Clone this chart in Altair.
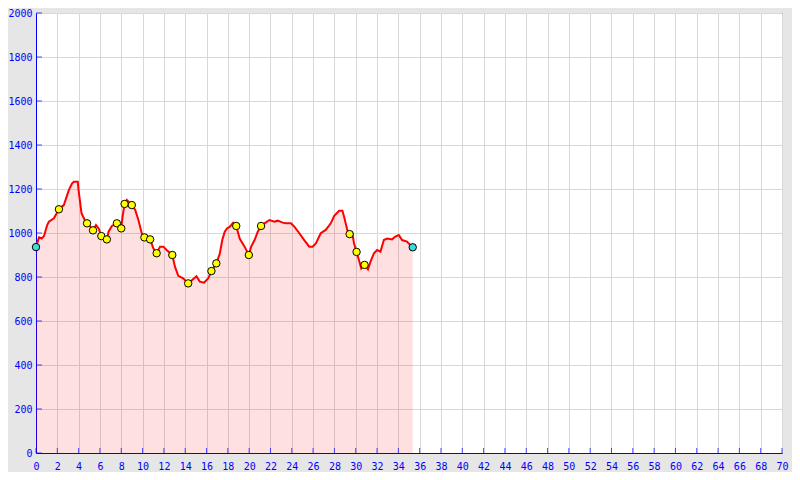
import altair as alt
import pandas as pd

# Elevation profile (km, m)
km = [0, 0.28, 0.53, 0.75, 1.05, 1.21, 1.68, 2.15, 2.61, 3.08, 3.39, 3.55, 3.92, 4.01,
      4.27, 4.57, 4.79, 5.11, 5.35, 5.63, 5.88, 6.13, 6.65, 6.81, 7.12, 7.59, 8.00, 8.12,
      8.31, 8.52, 8.99, 9.31, 9.61, 9.92, 10.17, 10.71, 11.01, 11.32, 11.64, 11.95, 12.26,
      12.79, 13.04, 13.35, 13.81, 14.28, 14.65, 15.06, 15.37, 15.77, 16.15, 16.46, 16.92,
      17.24, 17.48, 17.71, 17.92, 18.20, 18.50, 18.79, 19.11, 19.57, 19.97, 20.19, 20.51,
      20.81, 21.12, 21.44, 21.91, 22.37, 22.68, 23.15, 23.46, 23.92, 24.24, 24.71, 25.17,
      25.64, 25.95, 26.26, 26.72, 27.19, 27.66, 27.97, 28.44, 28.75, 28.91, 29.21, 29.43,
      29.68, 29.84, 30.08, 30.30, 30.52, 30.83, 31.15, 31.39, 31.71, 32.01, 32.32, 32.64,
      32.95, 33.41, 33.72, 34.04, 34.35, 34.81, 35.12, 35.35]
elev = [936, 980, 975, 986, 1036, 1051, 1067, 1108, 1127, 1195, 1226, 1233, 1233, 1188,
        1090, 1059, 1044, 1029, 1012, 1036, 1021, 986, 971, 1006, 1032, 1044, 1021, 1074,
        1132, 1150, 1127, 1105, 1059, 999, 980, 971, 930, 908, 938, 938, 923,
        900, 847, 805, 794, 771, 786, 803, 779, 774, 794, 825, 862,
        905, 968, 1006, 1021, 1029, 1047, 1032, 975, 938, 900, 938, 968,
        1006, 1032, 1044, 1059, 1051, 1056, 1047, 1044, 1044, 1029, 999, 968,
        938, 938, 953, 999, 1014, 1044, 1077, 1101, 1101, 1074, 1014, 995,
        1000, 953, 914, 877, 839, 855, 835, 870, 908, 923, 915, 968,
        975, 971, 984, 991, 968, 961, 945, 935]

# Waypoint markers
mk_km = [2.15, 4.79, 5.35, 6.13, 6.65, 7.59, 8.00, 8.31, 8.99, 10.17, 10.71, 11.32,
         12.79, 14.28, 16.46, 16.92, 18.79, 19.97, 21.12, 29.43, 30.08, 30.83]
mk_elev = [1108, 1044, 1012, 986, 971, 1044, 1021, 1132, 1127, 980, 971, 908,
           900, 771, 827, 862, 1032, 900, 1032, 995, 914, 855]

# Start / end markers
end_km = [0, 35.35]
end_elev = [936, 935]

x_ticks = list(range(0, 71, 2))
y_ticks = list(range(0, 2001, 200))

BLUE = "#0000ff"
FONT = "DejaVu Sans Mono"

prof = pd.DataFrame({"km": km, "elev": elev})
marks = pd.DataFrame({"km": mk_km, "elev": mk_elev})
ends = pd.DataFrame({"km": end_km, "elev": end_elev})
xt = pd.DataFrame({"km": x_ticks})
yt = pd.DataFrame({"elev": y_ticks})

xscale = alt.Scale(domain=[0, 70], nice=False)
yscale = alt.Scale(domain=[0, 2000], nice=False)

xaxis = alt.Axis(values=x_ticks, title=None, grid=True, gridColor="#d8d8d8", format="d",
                 domainColor=BLUE, tickSize=0, labelColor=BLUE, labelFont=FONT,
                 labelFontSize=10, labelPadding=8, labelFlush=False, labelOverlap=False)
yaxis = alt.Axis(values=y_ticks, title=None, grid=True, gridColor="#d8d8d8", format="d",
                 domainColor=BLUE, tickSize=0, labelColor=BLUE, labelFont=FONT,
                 labelFontSize=10, labelPadding=4, labelFlush=False, labelOverlap=False)

X = alt.X("km:Q", scale=xscale, axis=xaxis)
Y = alt.Y("elev:Q", scale=yscale, axis=yaxis)

base = alt.Chart(prof).encode(x=X, y=Y)

area = base.mark_area(color="#ff0000", opacity=0.12)
line = base.mark_line(color="#ff0000", strokeWidth=2)

pts = alt.Chart(marks).mark_point(shape="circle", filled=True, fill="#ffff00",
                                  stroke="#000000", strokeWidth=1, size=55, opacity=1).encode(x=X, y=Y)
endpts = alt.Chart(ends).mark_point(shape="circle", filled=True, fill="#3cdcdc",
                                    stroke="#000000", strokeWidth=1, size=55, opacity=1).encode(x=X, y=Y)

xticks = alt.Chart(xt).mark_tick(orient="vertical", size=5, thickness=1, color=BLUE).encode(
    x=X, y=alt.value(437.5))
yticks = alt.Chart(yt).mark_tick(orient="horizontal", size=6, thickness=1, color=BLUE).encode(
    y=Y, x=alt.value(3))

chart = alt.layer(area, line, xticks, yticks, pts, endpts).properties(
    width=746, height=440,
    autosize=alt.AutoSizeParams(type="none"),
    padding={"left": 28, "top": 5, "right": 10, "bottom": 19},
    background="#e6e6e6",
).configure_view(fill="#ffffff", stroke=BLUE, strokeWidth=1)

chart.save("out.html", embed_options={"renderer": "svg", "actions": False})
